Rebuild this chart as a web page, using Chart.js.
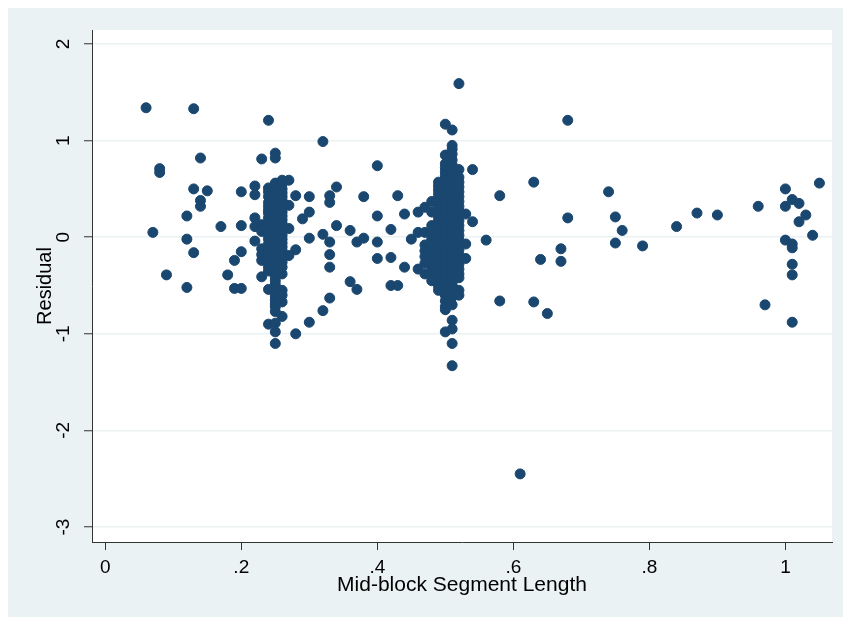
<!DOCTYPE html>
<html>
<head>
<meta charset="utf-8">
<title>Residual vs Mid-block Segment Length</title>
<script src="https://cdn.jsdelivr.net/npm/chart.js@4/dist/chart.umd.min.js"></script>
<style>
    html, body { margin: 0; padding: 0; background: #fff; }
    #wrap { position: absolute; left: 0; top: 0; width: 843px; height: 618px; }
</style>
</head>
<body>
<div id="wrap"><canvas id="chart" width="843" height="618"></canvas></div>
<script>
// mid-block segment lengths (x), each with the residuals seen at that length
const lengths = [0.06, 0.07, 0.08, 0.09, 0.12, 0.13, 0.14, 0.15, 0.17, 0.18, 0.19, 0.20, 0.22, 0.23, 0.24, 0.25, 0.26, 0.27, 0.28, 0.29, 0.30, 0.32, 0.33, 0.34, 0.36, 0.37, 0.38, 0.40, 0.42, 0.43, 0.44, 0.45, 0.46, 0.47, 0.48, 0.49, 0.50, 0.51, 0.52, 0.53, 0.54, 0.56, 0.58, 0.61, 0.63, 0.64, 0.65, 0.67, 0.68, 0.74, 0.75, 0.76, 0.79, 0.84, 0.87, 0.90, 0.96, 0.97, 1.00, 1.01, 1.02, 1.03, 1.04, 1.05];
const residuals = [
    [1.34],
    [0.05],
    [0.71, 0.67],
    [-0.39],
    [0.22, -0.02, -0.52],
    [1.33, 0.50, -0.16],
    [0.82, 0.38, 0.32],
    [0.48],
    [0.11],
    [-0.39],
    [-0.24, -0.53],
    [0.47, 0.12, -0.15, -0.53],
    [0.53, 0.44, 0.20, 0.11, -0.04],
    [0.81, 0.13, 0.06, -0.12, -0.18, -0.24, -0.41],
    [1.21, 0.51, 0.47, 0.42, 0.36, 0.32, 0.28, 0.25, 0.20, 0.15, 0.11, 0.06, 0.02, -0.02, -0.07, -0.12, -0.16, -0.21, -0.27, -0.31, -0.35, -0.54, -0.90],
    [0.87, 0.82, 0.56, 0.52, 0.48, 0.45, 0.41, 0.37, 0.33, 0.30, 0.27, 0.23, 0.19, 0.16, 0.12, 0.08, 0.05, 0.01, -0.03, -0.06, -0.10, -0.14, -0.18, -0.21, -0.25, -0.29, -0.33, -0.37, -0.41, -0.45, -0.49, -0.53, -0.57, -0.61, -0.65, -0.69, -0.72, -0.77, -0.89, -0.98, -1.10],
    [0.59, 0.55, 0.50, 0.46, 0.42, 0.38, 0.34, 0.30, 0.26, 0.22, 0.18, 0.14, 0.10, 0.06, 0.02, -0.02, -0.06, -0.10, -0.14, -0.18, -0.22, -0.26, -0.31, -0.38, -0.55, -0.60, -0.67, -0.82],
    [0.59, 0.33, 0.09, -0.19],
    [0.43, -0.13, -1.00],
    [0.19],
    [0.42, 0.26, -0.01, -0.88],
    [0.99, 0.03, -0.76],
    [0.43, 0.36, -0.05, -0.18, -0.31, -0.63],
    [0.52, 0.12],
    [0.07, -0.46],
    [-0.05, -0.54],
    [0.42, -0.01],
    [0.74, 0.22, -0.05, -0.22],
    [0.08, -0.21, -0.50],
    [0.43, -0.50],
    [0.24, -0.31],
    [-0.02],
    [0.26, 0.05, -0.33],
    [0.31, 0.05, -0.08, -0.14, -0.20, -0.27, -0.38],
    [0.37, 0.26, 0.12, 0.05, -0.02, -0.09, -0.17, -0.24, -0.31, -0.38, -0.45],
    [0.57, 0.53, 0.49, 0.45, 0.41, 0.37, 0.33, 0.29, 0.25, 0.21, 0.17, 0.13, 0.09, 0.05, 0.01, -0.03, -0.07, -0.11, -0.15, -0.19, -0.23, -0.27, -0.31, -0.35, -0.39, -0.43, -0.47, -0.51, -0.55],
    [1.17, 0.85, 0.76, 0.72, 0.68, 0.64, 0.60, 0.56, 0.52, 0.48, 0.44, 0.40, 0.36, 0.32, 0.28, 0.24, 0.20, 0.16, 0.12, 0.08, 0.04, 0.00, -0.04, -0.08, -0.12, -0.16, -0.20, -0.24, -0.28, -0.32, -0.36, -0.40, -0.44, -0.48, -0.52, -0.56, -0.60, -0.66, -0.72, -0.75, -0.98],
    [1.11, 0.95, 0.91, 0.86, 0.80, 0.75, 0.71, 0.67, 0.63, 0.59, 0.55, 0.51, 0.47, 0.43, 0.39, 0.35, 0.31, 0.27, 0.23, 0.19, 0.15, 0.11, 0.07, 0.03, -0.01, -0.05, -0.09, -0.13, -0.17, -0.21, -0.25, -0.29, -0.33, -0.37, -0.41, -0.45, -0.49, -0.53, -0.57, -0.62, -0.70, -0.86, -0.95, -1.10, -1.33],
    [1.59, 0.70, 0.62, 0.57, 0.52, 0.47, 0.42, 0.37, 0.32, 0.27, 0.22, 0.17, 0.12, 0.07, 0.02, -0.03, -0.08, -0.13, -0.18, -0.23, -0.28, -0.33, -0.38, -0.42, -0.55, -0.60],
    [0.24, -0.07, -0.22],
    [0.70, 0.16],
    [-0.03],
    [0.43, -0.66],
    [-2.45],
    [0.57, -0.67],
    [-0.23],
    [-0.79],
    [-0.12, -0.25],
    [1.21, 0.20],
    [0.47],
    [0.21, -0.06],
    [0.07],
    [-0.09],
    [0.11],
    [0.25],
    [0.23],
    [0.32],
    [-0.70],
    [0.50, 0.32, -0.03],
    [0.39, -0.07, -0.11, -0.28, -0.39, -0.88],
    [0.35, 0.16],
    [0.23],
    [0.02],
    [0.56]
];

// axis ticks
const xTicks = [0, 0.2, 0.4, 0.6, 0.8, 1];
const xTickLabels = ["0", ".2", ".4", ".6", ".8", "1"];
const yTicks = [-3, -2, -1, 0, 1, 2];
const yTickLabels = ["-3", "-2", "-1", "0", "1", "2"];

const points = [];
lengths.forEach((len, i) => {
    residuals[i].forEach(r => points.push({ x: len, y: r }));
});

const FONT = "'Liberation Sans', Arial, sans-serif";
const BG = "#EAF2F3";
const AXIS = "#333333";

// outer grey region + white plot region, like Stata's s2color scheme
const backdrop = {
    id: "backdrop",
    beforeDraw(chart) {
        const { ctx, chartArea } = chart;
        ctx.save();
        ctx.fillStyle = "#ffffff";
        ctx.fillRect(0, 0, chart.width, chart.height);
        ctx.fillStyle = BG;
        ctx.fillRect(8, 8, chart.width - 8, chart.height - 9);
        ctx.fillStyle = "#ffffff";
        ctx.fillRect(chartArea.left, chartArea.top, chartArea.right - chartArea.left, chartArea.bottom - chartArea.top);
        ctx.restore();
    }
};

new Chart(document.getElementById("chart"), {
    type: "scatter",
    data: {
        datasets: [{
            label: "Residual",
            data: points,
            backgroundColor: "#1A476F",
            borderColor: "#1A476F",
            borderWidth: 1,
            pointRadius: 5,
            pointHoverRadius: 5
        }]
    },
    options: {
        responsive: false,
        animation: false,
        layout: { padding: { left: 0, top: 30, right: 11, bottom: 0 } },
        plugins: {
            legend: { display: false },
            tooltip: { enabled: false }
        },
        scales: {
            x: {
                type: "linear",
                min: -0.0195,
                max: 1.0685,
                afterBuildTicks: s => { s.ticks = xTicks.map(v => ({ value: v })); },
                afterFit: s => { s.height = 76; },
                ticks: {
                    callback: (v, i) => xTickLabels[i],
                    autoSkip: false,
                    maxRotation: 0,
                    padding: 6,
                    color: "#000",
                    font: { family: FONT, size: 19 }
                },
                grid: {
                    drawOnChartArea: false,
                    drawTicks: true,
                    tickLength: 8,
                    tickColor: AXIS,
                    tickWidth: 1
                },
                border: { display: true, color: AXIS, width: 1 },
                title: {
                    display: true,
                    text: "Mid-block Segment Length",
                    color: "#000",
                    font: { family: FONT, size: 21 },
                    padding: { top: 0, bottom: 20 }
                }
            },
            y: {
                type: "linear",
                min: -3.155,
                max: 2.145,
                afterBuildTicks: s => { s.ticks = yTicks.map(v => ({ value: v })); },
                afterFit: s => { s.width = 92; },
                ticks: {
                    callback: (v, i) => yTickLabels[i],
                    autoSkip: false,
                    minRotation: 90,
                    maxRotation: 90,
                    crossAlign: "center",
                    padding: 12,
                    color: "#000",
                    font: { family: FONT, size: 19 }
                },
                grid: {
                    color: BG,
                    lineWidth: 1.5,
                    drawTicks: true,
                    tickLength: 8,
                    tickColor: AXIS,
                    tickWidth: 1
                },
                border: { display: true, color: AXIS, width: 1 },
                title: {
                    display: true,
                    text: "Residual",
                    color: "#000",
                    font: { family: FONT, size: 20 },
                    padding: { top: 33, bottom: 0 }
                }
            }
        }
    },
    plugins: [backdrop]
});
</script>
</body>
</html>
